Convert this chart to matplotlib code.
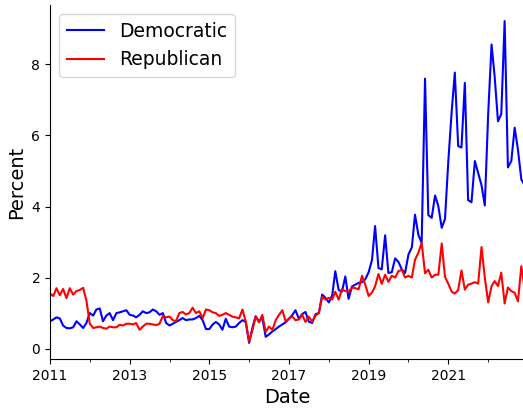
import datetime as dt
import matplotlib
matplotlib.use("Agg")
import matplotlib.pyplot as plt
import matplotlib.dates as mdates
import pandas as pd

# Monthly share of mentions (percent), Jan 2011 – Dec 2022
start_month = "2011-01-01"
n_months = 144

democratic = [
    0.77, 0.82, 0.88, 0.85, 0.65, 0.58, 0.57, 0.60, 0.77, 0.68, 0.58, 0.72,
    1.00, 0.93, 1.10, 1.13, 0.77, 0.93, 1.00, 0.80, 1.00, 1.02, 1.05, 1.08,
    0.95, 0.93, 0.88, 0.95, 1.05, 1.00, 1.02, 1.10, 1.05, 0.95, 1.00, 0.72,
    0.65, 0.70, 0.75, 0.80, 0.86, 0.80, 0.82, 0.82, 0.86, 0.92, 0.80, 0.55,
    0.55, 0.68, 0.75, 0.68, 0.53, 0.84, 0.62, 0.60, 0.62, 0.72, 0.80, 0.75,
    0.16, 0.60, 0.91, 0.76, 0.87, 0.33, 0.40, 0.48, 0.55, 0.62, 0.68, 0.74,
    0.84, 0.95, 1.08, 0.84, 0.97, 1.03, 0.76, 0.72, 0.97, 1.00, 1.52, 1.43,
    1.30, 1.50, 2.18, 1.65, 1.60, 2.03, 1.40, 1.75, 1.80, 1.85, 1.87, 1.95,
    2.15, 2.50, 3.45, 2.27, 2.23, 3.19, 2.13, 2.15, 2.54, 2.44, 2.23, 2.13,
    2.65, 2.85, 3.77, 3.20, 2.98, 7.60, 3.76, 3.68, 4.31, 4.01, 3.40, 3.65,
    5.30, 6.70, 7.77, 5.70, 5.66, 7.48, 4.18, 4.12, 5.28, 4.95, 4.60, 4.03,
    6.60, 8.56, 7.67, 6.40, 6.60, 9.22, 5.10, 5.28, 6.22, 5.60, 4.76, 4.60,
]

republican = [
    1.55, 1.48, 1.70, 1.50, 1.68, 1.42, 1.70, 1.52, 1.62, 1.65, 1.71, 1.35,
    0.70, 0.58, 0.60, 0.62, 0.58, 0.56, 0.62, 0.60, 0.60, 0.67, 0.65, 0.70,
    0.70, 0.68, 0.72, 0.53, 0.62, 0.70, 0.70, 0.68, 0.66, 0.70, 0.92, 0.88,
    0.90, 0.80, 0.77, 1.00, 1.03, 0.96, 1.00, 1.15, 1.00, 1.05, 0.86, 1.10,
    1.08, 1.02, 1.00, 0.92, 0.95, 1.00, 0.95, 0.90, 0.88, 0.85, 1.10, 0.76,
    0.20, 0.53, 0.90, 0.74, 0.95, 0.47, 0.62, 0.53, 0.80, 0.95, 1.08, 0.76,
    0.85, 0.90, 0.80, 0.82, 0.95, 0.75, 0.90, 0.76, 0.93, 1.00, 1.46, 1.38,
    1.43, 1.38, 1.60, 1.38, 1.67, 1.62, 1.60, 1.72, 1.70, 1.67, 2.05, 1.80,
    1.48, 1.58, 1.75, 2.10, 1.82, 2.08, 1.88, 2.05, 2.00, 2.18, 2.22, 2.00,
    2.05, 2.00, 2.50, 2.70, 2.98, 2.12, 2.22, 2.00, 2.08, 2.08, 2.96, 2.02,
    1.82, 1.60, 1.55, 1.65, 2.20, 1.66, 1.80, 1.83, 1.87, 1.83, 2.86, 2.00,
    1.30, 1.76, 1.90, 1.76, 2.14, 1.27, 1.72, 1.62, 1.57, 1.33, 2.32, 1.70,
]

labeled_years = [2011, 2013, 2015, 2017, 2019, 2021]
minor_years = [2012, 2014, 2016, 2018, 2020, 2022]

dates = pd.date_range(start_month, periods=n_months, freq="MS")

fig = plt.figure(figsize=(5.23, 4.08), dpi=100)
ax = fig.add_axes([50 / 523, 49 / 408, 474.6 / 523, 354 / 408])

ax.plot(dates, democratic, color="blue", lw=1.5, label="Democratic")
ax.plot(dates, republican, color="red", lw=1.5, label="Republican")

ax.set_xlim(dates[0], dates[-1])
ax.set_xticks([dt.datetime(y, 1, 1) for y in labeled_years])
ax.set_xticks([dt.datetime(y, 1, 1) for y in minor_years], minor=True)
ax.xaxis.set_major_formatter(mdates.DateFormatter("%Y"))
ax.set_yticks([0, 2, 4, 6, 8])

ax.spines["top"].set_visible(False)
ax.spines["right"].set_visible(False)

ax.set_xlabel("Date", fontsize=14)
ax.set_ylabel("Percent", fontsize=14)
ax.legend(loc="upper left", fontsize=13.5)

fig.savefig("out.png", dpi=100)
